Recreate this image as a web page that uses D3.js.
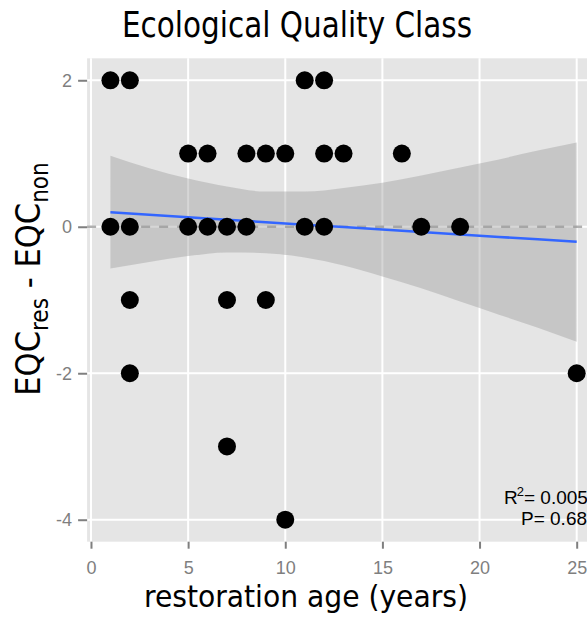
<!DOCTYPE html>
<html>
<head>
<meta charset="utf-8">
<script src="https://cdn.jsdelivr.net/npm/d3@7"></script>
<style>
body { margin: 0; background: #fff; }
svg { display: block; }
.ttl { font-family: "DejaVu Sans Condensed", "DejaVu Sans", sans-serif; font-stretch: condensed; }
.tick text { font-family: "Liberation Sans", Arial, sans-serif; }
</style>
</head>
<body>
<svg id="chart" width="587" height="617"></svg>
<script>
// points
const ages  = [1, 2, 11, 12, 5, 6, 8, 9, 10, 12, 13, 16, 1, 2, 5, 6, 7, 8, 11, 12, 17, 19, 2, 7, 9, 2, 25, 7, 10];
const diffs = [2, 2, 2, 2, 1, 1, 1, 1, 1, 1, 1, 1, 0, 0, 0, 0, 0, 0, 0, 0, 0, 0, -1, -1, -1, -2, -2, -3, -4];

// lm smooth + 95% band
const fitAge  = [1, 3, 5, 7, 9, 11, 13, 15, 17, 19, 21, 23, 25];
const fitMid  = [0.197, 0.164, 0.130, 0.096, 0.063, 0.029, -0.004, -0.038, -0.072, -0.105, -0.139, -0.172, -0.206];
const fitLow  = [-0.57, -0.48, -0.40, -0.35, -0.36, -0.42, -0.53, -0.68, -0.84, -1.02, -1.20, -1.38, -1.57];
const fitHigh = [0.97, 0.80, 0.66, 0.55, 0.48, 0.48, 0.53, 0.60, 0.70, 0.81, 0.92, 1.04, 1.15];

const xTicks = [0, 5, 10, 15, 20, 25];
const yTicks = [-4, -2, 0, 2];

const svg = d3.select("#chart");

let x = d3.scaleLinear().domain([-0.2, 26.2]).range([87.1, 600]);
let y = d3.scaleLinear().domain([-4.3, 2.3]).range([541.7, 58.3]);

// panel
svg.append("rect")
.attr("x", x(-0.2))
.attr("y", y(2.3))
.attr("width", x(26.2) - x(-0.2))
.attr("height", y(-4.3) - y(2.3))
.attr("fill", "#E5E5E5");

// grid
svg.selectAll(".vgrid")
.data(xTicks)
.join("line")
.attr("class", "vgrid")
.attr("x1", d => x(d)).attr("x2", d => x(d))
.attr("y1", y(2.3)).attr("y2", y(-4.3))
.attr("stroke", "#fff")
.attr("stroke-width", 2);

svg.selectAll(".hgrid")
.data(yTicks)
.join("line")
.attr("class", "hgrid")
.attr("x1", x(-0.2)).attr("x2", x(26.2))
.attr("y1", d => y(d)).attr("y2", d => y(d))
.attr("stroke", "#fff")
.attr("stroke-width", 2);

// dashed zero line
svg.append("line")
.attr("x1", x(-0.2)).attr("x2", x(26.2))
.attr("y1", y(0)).attr("y2", y(0))
.attr("stroke", "#b0b0b0")
.attr("stroke-width", 2.5)
.attr("stroke-dasharray", "9,9");

let fit = fitAge.map((a, i) => ({age: a, mid: fitMid[i], lo: fitLow[i], hi: fitHigh[i]}));

svg.append("path")
.datum(fit)
.attr("d", d3.area()
	.x(d => x(d.age))
	.y0(d => y(d.lo))
	.y1(d => y(d.hi))
	.curve(d3.curveMonotoneX))
.attr("fill", "#999")
.attr("fill-opacity", 0.4);

svg.append("path")
.datum(fit)
.attr("d", d3.line()
	.x(d => x(d.age))
	.y(d => y(d.mid)))
.attr("fill", "none")
.attr("stroke", "#3366FF")
.attr("stroke-width", 2.5);

// points
svg.selectAll(".pt")
.data(ages.map((a, i) => [a, diffs[i]]))
.join("circle")
.attr("class", "pt")
.attr("cx", d => x(d[0]))
.attr("cy", d => y(d[1]))
.attr("r", 9)
.attr("fill", "#000");

// axes
let xAxis = svg.append("g")
.attr("transform", `translate(0,${y(-4.3)})`)
.call(d3.axisBottom(x).tickValues(xTicks).tickSize(7).tickPadding(13));

let yAxis = svg.append("g")
.attr("transform", `translate(${x(-0.2)},0)`)
.call(d3.axisLeft(y).tickValues(yTicks).tickSize(9).tickPadding(6).tickFormat(d3.format("d")));

[xAxis, yAxis].forEach(g => {
	g.select(".domain").remove();
	g.selectAll(".tick line").attr("stroke", "#7f7f7f").attr("stroke-width", 2);
	g.selectAll(".tick text").attr("fill", "#7f7f7f").style("font-size", "18px");
});
yAxis.selectAll(".tick text").text(d => d < 0 ? "-" + Math.abs(d) : d);

// annotation (kept inside the frame)
let note = svg.append("g")
.style("font-family", "Liberation Sans, Arial, sans-serif")
.style("font-size", "19px")
.attr("fill", "#000");

let r2 = note.append("text").attr("x", 504).attr("y", 504);
r2.append("tspan").text("R");
r2.append("tspan").attr("dx", -1).attr("dy", -8).style("font-size", "13px").text("2");
r2.append("tspan").attr("dy", 8).text("= 0.005");

note.append("text").attr("x", 521).attr("y", 525).text("P= 0.68");

// titles
svg.append("text")
.attr("class", "ttl")
.attr("x", 297)
.attr("y", 37)
.attr("text-anchor", "middle")
.attr("textLength", 350)
.attr("lengthAdjust", "spacingAndGlyphs")
.style("font-size", "35px")
.text("Ecological Quality Class");

svg.append("text")
.attr("class", "ttl")
.attr("x", 306)
.attr("y", 607)
.attr("text-anchor", "middle")
.attr("textLength", 324)
.attr("lengthAdjust", "spacingAndGlyphs")
.style("font-size", "31px")
.text("restoration age (years)");

let ylab = svg.append("text")
.attr("class", "ttl")
.attr("transform", "translate(40,279) rotate(-90)")
.attr("text-anchor", "middle")
.style("font-size", "34px");
ylab.append("tspan").text("EQC");
ylab.append("tspan").attr("dy", 8).style("font-size", "24px").text("res");
ylab.append("tspan").attr("dy", -8).text(" - EQC");
ylab.append("tspan").attr("dy", 8).style("font-size", "24px").text("non");
</script>
</body>
</html>
